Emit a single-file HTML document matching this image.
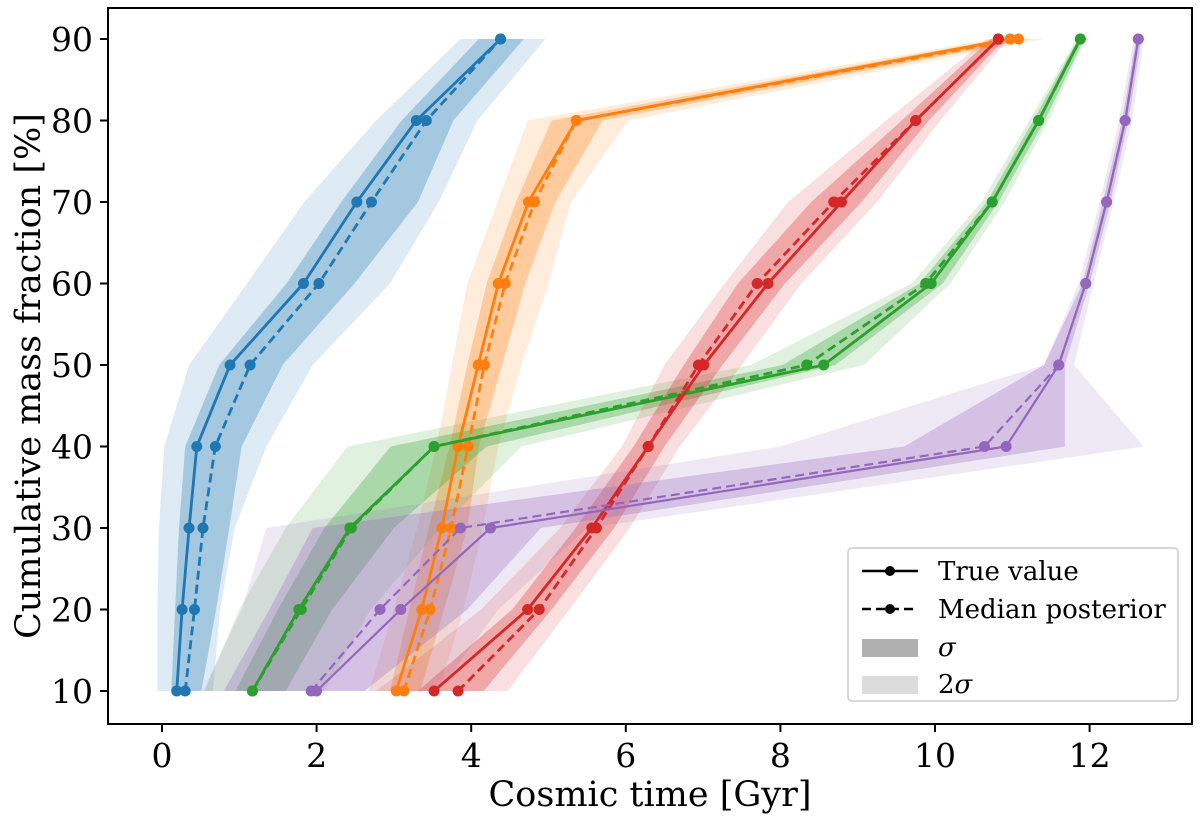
<!DOCTYPE html>
<html><head><meta charset="utf-8"><style>
html,body{margin:0;padding:0;background:#fff;}
svg{display:block;font-family:"DejaVu Serif","Liberation Serif",serif;}
</style></head><body>
<svg id="chart" width="1200" height="823" viewBox="0 0 1200 823" xmlns="http://www.w3.org/2000/svg">
<g id="bands"></g>
<g id="lines"></g>
<rect x="108" y="8" width="1084" height="716" fill="none" stroke="#000" stroke-width="2"/>
<g id="xticks"></g>
<g id="yticks"></g>
<text x="650" y="806" font-size="35" text-anchor="middle">Cosmic time [Gyr]</text>
<text transform="translate(40,376) rotate(-90)" font-size="35" text-anchor="middle">Cumulative mass fraction [%]</text>
<g>
<rect x="848" y="548" width="330" height="153" rx="4" fill="#fff" fill-opacity="0.85" stroke="#ccc" stroke-width="1.5"/>
<g><line x1="862" y1="571" x2="918" y2="571" stroke="#000" stroke-width="2.5"/><circle cx="890" cy="571" r="5"/><text x="938" y="580" font-size="26">True value</text></g>
<g><line x1="862" y1="609" x2="918" y2="609" stroke="#000" stroke-width="2.5" stroke-dasharray="9,5"/><circle cx="890" cy="609" r="5"/><text x="938" y="618" font-size="26">Median posterior</text></g>
<g><rect x="862" y="639" width="56" height="18" fill="#b0b0b0"/><text x="938" y="656" font-size="26" font-style="italic">σ</text></g>
<g><rect x="862" y="676" width="56" height="18" fill="#dcdcdc"/><text x="938" y="693" font-size="26">2<tspan font-style="italic">σ</tspan></text></g>
</g>
</svg>
<script>
const levels=[10,20,30,40,50,60,70,80,90];
const xTicks=[0,2,4,6,8,10,12];
const yTicks=[10,20,30,40,50,60,70,80,90];
const seriesNames=['blue','orange','green','red','purple'];
const colors=['#1f77b4','#ff7f0e','#2ca02c','#d62728','#9467bd'];
const blueTrue=[0.19,0.26,0.35,0.45,0.88,1.83,2.52,3.29,4.38];
const blueMed=[0.30,0.42,0.53,0.69,1.14,2.03,2.71,3.42,4.38];
const blueLo1=[0.12,0.17,0.22,0.30,0.74,1.61,2.32,3.10,4.10];
const blueHi1=[0.51,0.70,0.87,1.03,1.56,2.49,3.31,3.77,4.68];
const blueLo2=[-0.06,-0.06,-0.04,0.03,0.35,1.10,1.84,2.77,3.86];
const blueHi2=[0.66,0.75,0.94,1.35,1.95,2.95,3.58,4.08,4.96];
const orangeTrue=[3.03,3.36,3.62,3.83,4.09,4.35,4.74,5.36,10.97];
const orangeMed=[3.13,3.47,3.74,3.96,4.17,4.44,4.82,5.36,11.08];
const orangeLo1=[2.95,3.2,3.45,3.72,3.95,4.2,4.58,5.04,10.85];
const orangeHi1=[3.34,3.65,3.95,4.1,4.4,4.7,5.09,5.70,11.25];
const orangeLo2=[2.68,3.0,3.3,3.55,3.75,3.95,4.34,4.73,10.75];
const orangeHi2=[3.58,3.9,4.15,4.35,4.65,5.0,5.29,6.03,11.4];
const greenTrue=[1.17,1.77,2.43,3.52,8.56,9.95,10.74,11.34,11.88];
const greenMed=[1.17,1.80,2.45,3.52,8.34,9.88,10.74,11.34,11.88];
const greenLo1=[0.95,1.5,2.1,2.96,8.03,9.8,10.67,11.27,11.85];
const greenHi1=[1.6,2.2,3.0,4.2,8.71,10.1,10.82,11.42,11.93];
const greenLo2=[0.55,1.0,1.6,2.4,7.62,9.7,10.6,11.22,11.83];
const greenHi2=[2.1,2.7,3.6,4.65,9.08,10.2,10.9,11.47,11.95];
const redTrue=[3.52,4.73,5.56,6.29,7.01,7.84,8.79,9.75,10.82];
const redMed=[3.83,4.88,5.62,6.29,6.94,7.70,8.69,9.75,10.82];
const redLo1=[3.31,4.53,5.35,6.1,6.75,7.45,8.4,9.57,10.72];
const redHi1=[4.16,5.04,5.85,6.5,7.25,8.06,9.05,9.92,10.9];
const redLo2=[2.77,4.13,5.15,5.95,6.5,7.28,8.1,9.37,10.67];
const redHi2=[4.47,5.27,6.05,6.7,7.5,8.27,9.25,10.07,10.95];
const purpleTrue=[2.0,3.09,4.25,10.92,11.6,11.95,12.22,12.46,12.63];
const purpleMed=[1.93,2.82,3.86,10.64,11.6,11.95,12.22,12.46,12.63];
const purpleLo1=[0.8,1.39,1.95,9.6,11.41,11.91,12.17,12.42,12.6];
const purpleHi1=[2.62,3.95,4.9,11.68,11.68,12.0,12.27,12.5,12.67];
const purpleLo2=[0.53,1.03,1.35,8.0,11.41,11.86,12.13,12.38,12.57];
const purpleHi2=[3.58,4.35,5.5,12.7,11.8,12.05,12.31,12.55,12.7];

const trueS=[blueTrue,orangeTrue,greenTrue,redTrue,purpleTrue];
const medS=[blueMed,orangeMed,greenMed,redMed,purpleMed];
const lo1S=[blueLo1,orangeLo1,greenLo1,redLo1,purpleLo1];
const hi1S=[blueHi1,orangeHi1,greenHi1,redHi1,purpleHi1];
const lo2S=[blueLo2,orangeLo2,greenLo2,redLo2,purpleLo2];
const hi2S=[blueHi2,orangeHi2,greenHi2,redHi2,purpleHi2];

const NS='http://www.w3.org/2000/svg';
function X(t){return 162+77.3*t;}
function Y(p){return 691-(p-10)*8.15;}
function mk(tag,attrs,parent){const e=document.createElementNS(NS,tag);for(const k in attrs)e.setAttribute(k,attrs[k]);parent.appendChild(e);return e;}
const bands=document.getElementById('bands'),lines=document.getElementById('lines');
function bandPath(lo,hi){let d='';levels.forEach((l,i)=>{d+=(i?'L':'M')+X(lo[i]).toFixed(1)+','+Y(l).toFixed(1);});for(let i=levels.length-1;i>=0;i--)d+='L'+X(hi[i]).toFixed(1)+','+Y(levels[i]).toFixed(1);return d+'Z';}
function linePts(a){return levels.map((l,i)=>X(a[i]).toFixed(1)+','+Y(l).toFixed(1)).join(' ');}
for(let s=0;s<5;s++){
  const p2=mk('path',{d:bandPath(lo2S[s],hi2S[s]),fill:colors[s],'fill-opacity':0.15},bands);
  
  
  const p1=mk('path',{d:bandPath(lo1S[s],hi1S[s]),fill:colors[s],'fill-opacity':0.3},bands);
  
  
}
for(let s=0;s<5;s++){
  const w=s===4?2.2:2.8;
  const g=mk('g',{},lines);
  
  
  const lt=mk('polyline',{points:linePts(trueS[s]),fill:'none',stroke:colors[s],'stroke-width':w},g);
  
  
  const lm=mk('polyline',{points:linePts(medS[s]),fill:'none',stroke:colors[s],'stroke-width':w,'stroke-dasharray':'9,5'},g);
  
  
  levels.forEach((l,i)=>{
    const c1=mk('circle',{cx:X(trueS[s][i]),cy:Y(l),r:5.5,fill:colors[s]},g);
    
    
    const c2=mk('circle',{cx:X(medS[s][i]),cy:Y(l),r:5.5,fill:colors[s]},g);
    
    
  });
}
const xt=document.getElementById('xticks');
xTicks.forEach(v=>{
  const l=mk('line',{x1:X(v),x2:X(v),y1:724,y2:732,stroke:'#000','stroke-width':2},xt);
  
  
  const t=mk('text',{x:X(v),y:767,'font-size':33,'text-anchor':'middle'},xt);
  
  
  t.textContent=v;
});
const yt=document.getElementById('yticks');
yTicks.forEach(v=>{
  const l=mk('line',{x1:100,x2:108,y1:Y(v),y2:Y(v),stroke:'#000','stroke-width':2},yt);
  
  
  const t=mk('text',{x:93,y:Y(v)+12,'font-size':33,'text-anchor':'end'},yt);
  
  
  t.textContent=v;
});
</script>
</body></html>
